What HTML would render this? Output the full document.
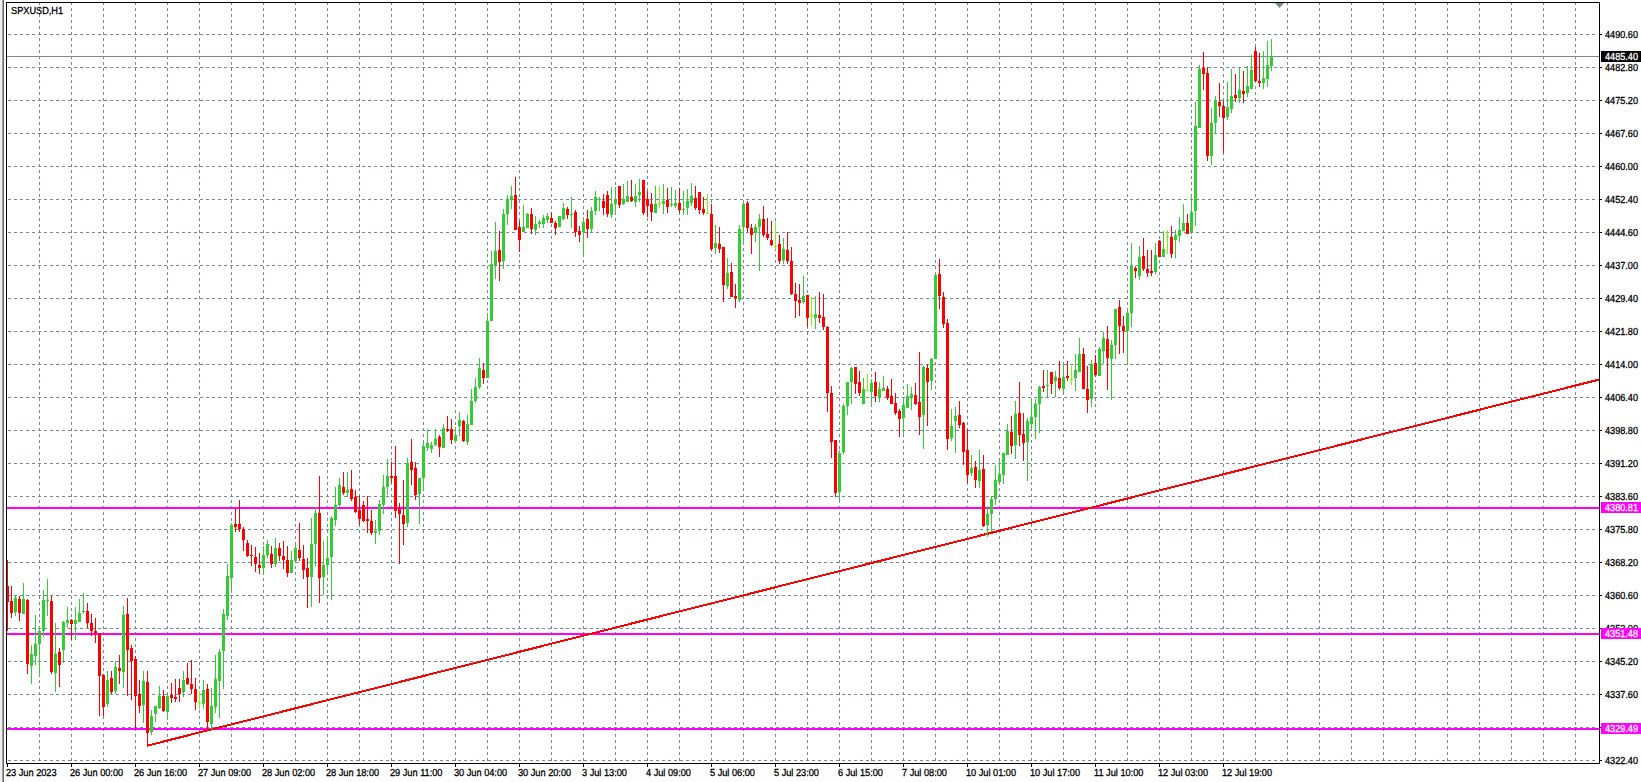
<!DOCTYPE html><html><head><meta charset="utf-8"><style>html,body{margin:0;padding:0;background:#fff;width:1641px;height:782px;overflow:hidden}svg{display:block}text{font-family:"Liberation Sans",sans-serif;font-size:10.2px;text-rendering:geometricPrecision;stroke:currentColor;stroke-width:0.3px}</style></head><body>
<svg width="1641" height="782" viewBox="0 0 1641 782" shape-rendering="crispEdges">
<rect x="0" y="0" width="2" height="782" fill="#f0f0f0"/><rect x="2" y="0" width="1" height="782" fill="#a0a0a0"/><rect x="3" y="0" width="1" height="782" fill="#696969"/>
<path d="M39.5 2V763M71.5 2V763M103.5 2V763M135.5 2V763M167.5 2V763M199.5 2V763M231.5 2V763M263.5 2V763M295.5 2V763M327.5 2V763M359.5 2V763M391.5 2V763M423.5 2V763M455.5 2V763M487.5 2V763M519.5 2V763M551.5 2V763M583.5 2V763M615.5 2V763M647.5 2V763M679.5 2V763M711.5 2V763M743.5 2V763M775.5 2V763M807.5 2V763M839.5 2V763M871.5 2V763M903.5 2V763M935.5 2V763M967.5 2V763M999.5 2V763M1031.5 2V763M1063.5 2V763M1095.5 2V763M1127.5 2V763M1159.5 2V763M1191.5 2V763M1223.5 2V763M1255.5 2V763M1287.5 2V763M1319.5 2V763M1351.5 2V763M1383.5 2V763M1415.5 2V763M1447.5 2V763M1479.5 2V763M1511.5 2V763M1543.5 2V763M1575.5 2V763M8 34.5H1598M8 67.5H1598M8 100.5H1598M8 133.5H1598M8 166.5H1598M8 199.5H1598M8 232.5H1598M8 265.5H1598M8 298.5H1598M8 331.5H1598M8 364.5H1598M8 397.5H1598M8 430.5H1598M8 463.5H1598M8 496.5H1598M8 529.5H1598M8 562.5H1598M8 595.5H1598M8 628.5H1598M8 661.5H1598M8 694.5H1598M8 727.5H1598M8 760.5H1598" stroke="#778899" stroke-width="1" stroke-dasharray="3 3" fill="none"/>
<path d="M7 56.5H1599" stroke="#778899" stroke-width="1"/>
<rect x="7" y="507" width="1592" height="2" fill="#ff00ff"/>
<rect x="7" y="633" width="1592" height="2" fill="#ff00ff"/>
<rect x="7" y="728" width="1592" height="2" fill="#ff00ff"/>
<path d="M147 745.7L1599 379.6" stroke="#ff0000" stroke-width="2" fill="none"/>
<path d="M15.5 595V616M23.5 583V614M31.5 645V684M35.5 615V665M39.5 627V676M43.5 590V637M47.5 579V616M55.5 623V692M63.5 621V663M67.5 607V628M75.5 607V640M79.5 599V622M83.5 593V614M107.5 671V707M115.5 661V694M123.5 606V688M143.5 671V723M151.5 710V735M155.5 706V722M159.5 686V709M167.5 694V720M183.5 671V697M203.5 680V709M211.5 688V731M215.5 655V713M219.5 649V718M223.5 609V689M227.5 564V620M231.5 523V590M263.5 546V574M267.5 540V558M275.5 538V567M291.5 551V573M295.5 544V562M311.5 518V607M315.5 507V566M323.5 541V595M327.5 536V572M331.5 516V600M335.5 487V526M339.5 478V507M347.5 472V497M375.5 520V544M379.5 500V535M383.5 475V514M387.5 459V495M407.5 458V527M419.5 478V524M423.5 443V490M427.5 429V451M431.5 442V453M435.5 429V446M443.5 424V448M455.5 427V443M459.5 412V436M467.5 415V445M471.5 389V425M475.5 378V403M479.5 358V389M487.5 313V378M491.5 251V321M495.5 222V279M503.5 209V269M507.5 195V225M511.5 186V209M523.5 205V232M527.5 213V228M535.5 216V235M539.5 220V228M543.5 215V228M547.5 213V223M559.5 216V227M563.5 203V220M571.5 197V228M583.5 217V256M591.5 207V232M595.5 191V215M599.5 197V211M611.5 187V218M615.5 187V213M623.5 184V205M627.5 181V202M635.5 184V207M639.5 179V202M655.5 186V213M663.5 184V214M671.5 187V207M675.5 190V208M683.5 191V215M687.5 189V215M691.5 183V206M715.5 225V254M727.5 258V289M739.5 225V302M743.5 202V242M755.5 224V242M759.5 214V271M783.5 238V264M803.5 276V304M815.5 296V329M839.5 450V500M843.5 404V454M847.5 382V415M851.5 367V404M863.5 378V404M871.5 379V405M879.5 382V402M883.5 376V391M903.5 398V434M907.5 384V408M911.5 387V410M923.5 366V449M931.5 358V390M935.5 274V359M951.5 409V441M955.5 407V453M971.5 455V476M979.5 450V488M987.5 506V537M991.5 496V532M995.5 465V505M999.5 460V482M1003.5 453V484M1007.5 424V455M1015.5 401V459M1027.5 418V481M1031.5 399V428M1035.5 399V439M1039.5 386V433M1047.5 370V397M1055.5 371V397M1063.5 364V392M1075.5 354V391M1079.5 338V372M1091.5 360V407M1099.5 347V376M1103.5 332V364M1111.5 340V400M1115.5 309V359M1127.5 311V364M1131.5 243V327M1139.5 246V280M1155.5 243V274M1163.5 231V257M1175.5 230V258M1179.5 217V242M1183.5 204V231M1191.5 195V234M1195.5 102V226M1199.5 65V128M1211.5 108V165M1215.5 96V133M1227.5 82V120M1231.5 69V113M1239.5 67V103M1247.5 66V97M1251.5 55V89M1263.5 51V89M1267.5 41V87M1271.5 39V71" stroke="#32cd32" stroke-width="1" fill="none"/>
<path d="M14 598h3v14h-3zM22 599h3v15h-3zM30 654h3v12h-3zM34 644h3v12h-3zM38 631h3v13h-3zM42 600h3v31h-3zM46 600h3v1h-3zM54 654h3v19h-3zM62 622h3v28h-3zM66 620h3v3h-3zM74 620h3v4h-3zM78 613h3v9h-3zM82 611h3v1h-3zM106 680h3v24h-3zM114 667h3v24h-3zM122 615h3v57h-3zM142 681h3v24h-3zM150 716h3v16h-3zM154 706h3v8h-3zM158 696h3v12h-3zM166 696h3v16h-3zM182 680h3v12h-3zM202 690h3v14h-3zM210 706h3v18h-3zM214 679h3v28h-3zM218 652h3v29h-3zM222 614h3v37h-3zM226 576h3v40h-3zM230 525h3v53h-3zM262 555h3v13h-3zM266 544h3v11h-3zM274 548h3v16h-3zM290 560h3v13h-3zM294 548h3v13h-3zM310 544h3v33h-3zM314 513h3v31h-3zM322 565h3v12h-3zM326 558h3v7h-3zM330 518h3v39h-3zM334 505h3v15h-3zM338 485h3v20h-3zM346 490h3v3h-3zM374 531h3v2h-3zM378 504h3v27h-3zM382 487h3v18h-3zM386 476h3v11h-3zM406 463h3v60h-3zM418 478h3v16h-3zM422 446h3v32h-3zM426 443h3v5h-3zM430 445h3v4h-3zM434 439h3v6h-3zM442 428h3v20h-3zM454 435h3v6h-3zM458 420h3v6h-3zM466 424h3v18h-3zM470 401h3v24h-3zM474 387h3v14h-3zM478 368h3v19h-3zM486 321h3v57h-3zM490 264h3v57h-3zM494 251h3v14h-3zM502 214h3v47h-3zM506 200h3v14h-3zM510 196h3v4h-3zM522 227h3v5h-3zM526 214h3v14h-3zM534 224h3v6h-3zM538 222h3v2h-3zM542 218h3v6h-3zM546 216h3v4h-3zM558 216h3v11h-3zM562 208h3v11h-3zM570 214h3v1h-3zM582 222h3v10h-3zM590 211h3v18h-3zM594 197h3v14h-3zM598 199h3v1h-3zM610 204h3v11h-3zM614 200h3v4h-3zM622 199h3v5h-3zM626 196h3v6h-3zM634 196h3v6h-3zM638 192h3v3h-3zM654 204h3v9h-3zM662 201h3v3h-3zM670 204h3v1h-3zM674 203h3v3h-3zM682 209h3v1h-3zM686 201h3v7h-3zM690 196h3v7h-3zM714 243h3v5h-3zM726 273h3v13h-3zM738 229h3v71h-3zM742 204h3v23h-3zM754 227h3v6h-3zM758 219h3v8h-3zM782 249h3v11h-3zM802 296h3v6h-3zM814 314h3v4h-3zM838 453h3v39h-3zM842 406h3v46h-3zM846 382h3v24h-3zM850 368h3v14h-3zM862 389h3v15h-3zM870 383h3v9h-3zM878 389h3v9h-3zM882 388h3v3h-3zM902 405h3v13h-3zM906 396h3v12h-3zM910 394h3v4h-3zM922 367h3v48h-3zM930 359h3v22h-3zM934 275h3v84h-3zM950 426h3v12h-3zM954 416h3v5h-3zM970 468h3v5h-3zM978 470h3v11h-3zM986 514h3v11h-3zM990 499h3v15h-3zM994 480h3v19h-3zM998 474h3v8h-3zM1002 453h3v22h-3zM1006 431h3v24h-3zM1014 414h3v31h-3zM1026 421h3v21h-3zM1030 417h3v7h-3zM1034 404h3v13h-3zM1038 387h3v17h-3zM1046 385h3v1h-3zM1054 377h3v4h-3zM1062 377h3v12h-3zM1074 370h3v8h-3zM1078 354h3v18h-3zM1090 364h3v35h-3zM1098 349h3v27h-3zM1102 338h3v13h-3zM1110 345h3v14h-3zM1114 309h3v36h-3zM1126 313h3v18h-3zM1130 266h3v47h-3zM1138 257h3v19h-3zM1154 255h3v17h-3zM1162 249h3v8h-3zM1174 235h3v5h-3zM1178 230h3v6h-3zM1182 223h3v8h-3zM1190 212h3v20h-3zM1194 126h3v85h-3zM1198 69h3v59h-3zM1210 123h3v33h-3zM1214 100h3v23h-3zM1226 107h3v10h-3zM1230 96h3v13h-3zM1238 90h3v8h-3zM1246 86h3v7h-3zM1250 70h3v19h-3zM1262 78h3v5h-3zM1266 65h3v14h-3zM1270 56h3v10h-3z" fill="#32cd32"/>
<path d="M7.5 560V631M11.5 586V618M19.5 596V621M27.5 599V674M51.5 596V674M59.5 648V687M71.5 619V640M87.5 603V628M91.5 614V636M95.5 618V643M99.5 633V716M103.5 674V716M111.5 671V694M119.5 655V684M127.5 598V696M131.5 645V700M135.5 656V728M139.5 680V713M147.5 671V745M163.5 690V712M171.5 683V703M175.5 679V702M179.5 679V702M187.5 663V685M191.5 660V694M195.5 678V710M207.5 684V730M235.5 508V532M239.5 500V532M243.5 527V551M247.5 540V557M251.5 545V566M255.5 547V572M259.5 553V574M271.5 546V568M279.5 543V561M283.5 541V569M287.5 546V577M299.5 523V561M303.5 545V579M307.5 558V608M319.5 476V603M343.5 472V495M351.5 470V501M355.5 490V513M359.5 496V525M363.5 501V522M367.5 496V533M371.5 510V535M391.5 462V483M395.5 446V518M399.5 503V564M403.5 480V545M411.5 439V485M415.5 462V500M439.5 435V457M447.5 416V432M451.5 419V444M463.5 420V442M483.5 363V384M499.5 231V281M515.5 177V230M519.5 221V252M531.5 208V234M551.5 212V223M555.5 221V235M567.5 207V219M575.5 210V237M579.5 226V242M587.5 210V238M603.5 194V215M607.5 191V217M619.5 186V208M631.5 180V202M643.5 180V215M647.5 191V217M651.5 193V221M667.5 188V213M679.5 188V213M695.5 186V210M699.5 192V214M703.5 197V215M711.5 204V251M719.5 227V253M723.5 247V302M731.5 263V297M735.5 284V308M747.5 201V232M751.5 224V254M763.5 206V237M767.5 218V240M771.5 221V246M779.5 235V264M787.5 232V264M791.5 247V295M795.5 283V318M799.5 284V316M807.5 295V327M819.5 292V323M823.5 294V330M827.5 326V412M831.5 386V458M835.5 440V497M855.5 367V394M859.5 371V396M875.5 372V402M887.5 386V400M891.5 379V404M895.5 393V415M899.5 409V437M915.5 383V405M919.5 352V435M927.5 364V426M939.5 259V309M943.5 292V328M947.5 319V450M959.5 401V428M963.5 422V465M967.5 429V483M975.5 461V488M983.5 455V527M1011.5 416V454M1019.5 382V446M1023.5 413V461M1043.5 370V392M1051.5 372V394M1059.5 361V390M1067.5 361V381M1083.5 348V389M1087.5 366V413M1095.5 355V377M1107.5 326V390M1119.5 300V354M1123.5 316V353M1135.5 266V278M1143.5 238V271M1147.5 250V277M1151.5 250V276M1159.5 240V257M1171.5 226V258M1187.5 214V234M1203.5 52V90M1207.5 67V161M1219.5 83V117M1223.5 101V153M1235.5 74V102M1243.5 71V103M1255.5 47V82M1259.5 53V87" stroke="#ff0000" stroke-width="1" fill="none"/>
<path d="M6 586h3v16h-3zM10 601h3v12h-3zM18 599h3v14h-3zM26 600h3v64h-3zM50 601h3v71h-3zM58 652h3v13h-3zM70 620h3v4h-3zM86 611h3v12h-3zM90 623h3v8h-3zM94 631h3v2h-3zM98 633h3v43h-3zM102 675h3v32h-3zM110 678h3v14h-3zM118 668h3v3h-3zM126 614h3v36h-3zM130 648h3v13h-3zM134 659h3v37h-3zM138 694h3v12h-3zM146 682h3v51h-3zM162 696h3v15h-3zM170 695h3v3h-3zM174 697h3v2h-3zM178 688h3v6h-3zM186 678h3v6h-3zM190 684h3v5h-3zM194 689h3v13h-3zM206 689h3v33h-3zM234 524h3v3h-3zM238 524h3v5h-3zM242 529h3v11h-3zM246 543h3v13h-3zM250 555h3v1h-3zM254 557h3v7h-3zM258 565h3v3h-3zM270 554h3v10h-3zM278 548h3v8h-3zM282 556h3v4h-3zM286 560h3v13h-3zM298 550h3v8h-3zM302 559h3v11h-3zM306 568h3v9h-3zM318 513h3v65h-3zM342 487h3v6h-3zM350 489h3v10h-3zM354 497h3v15h-3zM358 510h3v9h-3zM362 505h3v16h-3zM366 519h3v2h-3zM370 521h3v12h-3zM390 476h3v2h-3zM394 476h3v35h-3zM398 509h3v5h-3zM402 515h3v9h-3zM410 462h3v8h-3zM414 468h3v27h-3zM438 437h3v10h-3zM446 429h3v2h-3zM450 429h3v11h-3zM462 421h3v20h-3zM482 370h3v8h-3zM498 250h3v12h-3zM514 195h3v35h-3zM518 227h3v13h-3zM530 214h3v15h-3zM550 218h3v5h-3zM554 223h3v5h-3zM566 209h3v6h-3zM574 212h3v20h-3zM578 231h3v4h-3zM586 219h3v10h-3zM602 201h3v7h-3zM606 195h3v19h-3zM618 186h3v19h-3zM630 197h3v4h-3zM642 180h3v33h-3zM646 199h3v7h-3zM650 204h3v8h-3zM666 200h3v7h-3zM678 203h3v7h-3zM694 198h3v10h-3zM698 192h3v18h-3zM702 209h3v4h-3zM710 214h3v35h-3zM718 244h3v5h-3zM722 247h3v38h-3zM730 272h3v25h-3zM734 296h3v2h-3zM746 203h3v25h-3zM750 228h3v7h-3zM762 219h3v16h-3zM766 234h3v4h-3zM770 240h3v5h-3zM778 244h3v17h-3zM786 250h3v11h-3zM790 261h3v33h-3zM794 294h3v7h-3zM798 300h3v3h-3zM806 295h3v23h-3zM818 315h3v3h-3zM822 317h3v10h-3zM826 327h3v66h-3zM830 393h3v49h-3zM834 440h3v53h-3zM854 367h3v17h-3zM858 382h3v11h-3zM874 382h3v14h-3zM886 389h3v9h-3zM890 396h3v8h-3zM894 403h3v10h-3zM898 411h3v8h-3zM914 395h3v9h-3zM918 402h3v15h-3zM926 368h3v14h-3zM938 274h3v22h-3zM942 297h3v27h-3zM946 323h3v116h-3zM958 415h3v10h-3zM962 423h3v29h-3zM966 450h3v25h-3zM974 467h3v13h-3zM982 469h3v57h-3zM1010 432h3v14h-3zM1018 413h3v22h-3zM1022 434h3v9h-3zM1042 386h3v2h-3zM1050 372h3v12h-3zM1058 378h3v10h-3zM1066 376h3v2h-3zM1082 354h3v35h-3zM1086 389h3v11h-3zM1094 363h3v12h-3zM1106 339h3v19h-3zM1118 307h3v19h-3zM1122 326h3v5h-3zM1134 268h3v3h-3zM1142 256h3v13h-3zM1146 269h3v4h-3zM1150 271h3v2h-3zM1158 241h3v16h-3zM1170 237h3v17h-3zM1186 223h3v11h-3zM1202 68h3v6h-3zM1206 73h3v83h-3zM1218 102h3v4h-3zM1222 106h3v12h-3zM1234 95h3v3h-3zM1242 91h3v3h-3zM1254 51h3v30h-3zM1258 81h3v2h-3z" fill="#ff0000"/>
<path d="M199.5 691V709M659.5 186V208M707.5 194V214M775.5 222V249M811.5 297V326M867.5 374V390M1071.5 366V385M1167.5 230V254" stroke="#7cfc00" stroke-width="1" fill="none"/>
<path d="M198 702h3v1h-3zM658 203h3v1h-3zM706 213h3v1h-3zM774 246h3v1h-3zM810 315h3v1h-3zM866 390h3v1h-3zM1070 379h3v1h-3zM1166 236h3v1h-3z" fill="#7cfc00"/>
<rect x="6.5" y="2.5" width="1593" height="761" fill="none" stroke="#000" stroke-width="1"/>
<path d="M1275 3H1284L1279.5 8Z" fill="#778899" shape-rendering="geometricPrecision"/>
<text x="1605" y="38" textLength="33" lengthAdjust="spacingAndGlyphs">4490.60</text>
<text x="1605" y="71" textLength="33" lengthAdjust="spacingAndGlyphs">4482.80</text>
<text x="1605" y="104" textLength="33" lengthAdjust="spacingAndGlyphs">4475.20</text>
<text x="1605" y="137" textLength="33" lengthAdjust="spacingAndGlyphs">4467.60</text>
<text x="1605" y="170" textLength="33" lengthAdjust="spacingAndGlyphs">4460.00</text>
<text x="1605" y="203" textLength="33" lengthAdjust="spacingAndGlyphs">4452.40</text>
<text x="1605" y="236" textLength="33" lengthAdjust="spacingAndGlyphs">4444.60</text>
<text x="1605" y="269" textLength="33" lengthAdjust="spacingAndGlyphs">4437.00</text>
<text x="1605" y="302" textLength="33" lengthAdjust="spacingAndGlyphs">4429.40</text>
<text x="1605" y="335" textLength="33" lengthAdjust="spacingAndGlyphs">4421.80</text>
<text x="1605" y="368" textLength="33" lengthAdjust="spacingAndGlyphs">4414.00</text>
<text x="1605" y="401" textLength="33" lengthAdjust="spacingAndGlyphs">4406.40</text>
<text x="1605" y="434" textLength="33" lengthAdjust="spacingAndGlyphs">4398.80</text>
<text x="1605" y="467" textLength="33" lengthAdjust="spacingAndGlyphs">4391.20</text>
<text x="1605" y="500" textLength="33" lengthAdjust="spacingAndGlyphs">4383.60</text>
<text x="1605" y="533" textLength="33" lengthAdjust="spacingAndGlyphs">4375.80</text>
<text x="1605" y="566" textLength="33" lengthAdjust="spacingAndGlyphs">4368.20</text>
<text x="1605" y="599" textLength="33" lengthAdjust="spacingAndGlyphs">4360.60</text>
<text x="1605" y="632" textLength="33" lengthAdjust="spacingAndGlyphs">4353.00</text>
<text x="1605" y="665" textLength="33" lengthAdjust="spacingAndGlyphs">4345.20</text>
<text x="1605" y="698" textLength="33" lengthAdjust="spacingAndGlyphs">4337.60</text>
<text x="1605" y="731" textLength="33" lengthAdjust="spacingAndGlyphs">4330.00</text>
<text x="1605" y="764" textLength="33" lengthAdjust="spacingAndGlyphs">4322.40</text>
<path d="M1600 34.5h2M1600 67.5h2M1600 100.5h2M1600 133.5h2M1600 166.5h2M1600 199.5h2M1600 232.5h2M1600 265.5h2M1600 298.5h2M1600 331.5h2M1600 364.5h2M1600 397.5h2M1600 430.5h2M1600 463.5h2M1600 496.5h2M1600 529.5h2M1600 562.5h2M1600 595.5h2M1600 628.5h2M1600 661.5h2M1600 694.5h2M1600 727.5h2M1600 760.5h2" stroke="#000" stroke-width="1"/>
<rect x="1601" y="51" width="40" height="11" fill="#000"/>
<text x="1605" y="60" fill="#fff" style="color:#fff" textLength="33" lengthAdjust="spacingAndGlyphs">4485.40</text>
<rect x="1601" y="502" width="40" height="11" fill="#ff00ff"/>
<text x="1605" y="511" fill="#fff" style="color:#fff" textLength="33" lengthAdjust="spacingAndGlyphs">4380.81</text>
<rect x="1601" y="628" width="40" height="11" fill="#ff00ff"/>
<text x="1605" y="637" fill="#fff" style="color:#fff" textLength="33" lengthAdjust="spacingAndGlyphs">4351.48</text>
<rect x="1601" y="723" width="40" height="11" fill="#ff00ff"/>
<text x="1605" y="732" fill="#fff" style="color:#fff" textLength="33" lengthAdjust="spacingAndGlyphs">4329.49</text>
<text x="6" y="776" transform="translate(6 0) scale(0.902 1) translate(-6 0)">23 Jun 2023</text>
<text x="70" y="776" transform="translate(70 0) scale(0.902 1) translate(-70 0)">26 Jun 00:00</text>
<text x="134" y="776" transform="translate(134 0) scale(0.902 1) translate(-134 0)">26 Jun 16:00</text>
<text x="198" y="776" transform="translate(198 0) scale(0.902 1) translate(-198 0)">27 Jun 09:00</text>
<text x="262" y="776" transform="translate(262 0) scale(0.902 1) translate(-262 0)">28 Jun 02:00</text>
<text x="326" y="776" transform="translate(326 0) scale(0.902 1) translate(-326 0)">28 Jun 18:00</text>
<text x="390" y="776" transform="translate(390 0) scale(0.902 1) translate(-390 0)">29 Jun 11:00</text>
<text x="454" y="776" transform="translate(454 0) scale(0.902 1) translate(-454 0)">30 Jun 04:00</text>
<text x="518" y="776" transform="translate(518 0) scale(0.902 1) translate(-518 0)">30 Jun 20:00</text>
<text x="582" y="776" transform="translate(582 0) scale(0.902 1) translate(-582 0)">3 Jul 13:00</text>
<text x="646" y="776" transform="translate(646 0) scale(0.902 1) translate(-646 0)">4 Jul 09:00</text>
<text x="710" y="776" transform="translate(710 0) scale(0.902 1) translate(-710 0)">5 Jul 06:00</text>
<text x="774" y="776" transform="translate(774 0) scale(0.902 1) translate(-774 0)">5 Jul 23:00</text>
<text x="838" y="776" transform="translate(838 0) scale(0.902 1) translate(-838 0)">6 Jul 15:00</text>
<text x="902" y="776" transform="translate(902 0) scale(0.902 1) translate(-902 0)">7 Jul 08:00</text>
<text x="966" y="776" transform="translate(966 0) scale(0.902 1) translate(-966 0)">10 Jul 01:00</text>
<text x="1030" y="776" transform="translate(1030 0) scale(0.902 1) translate(-1030 0)">10 Jul 17:00</text>
<text x="1094" y="776" transform="translate(1094 0) scale(0.902 1) translate(-1094 0)">11 Jul 10:00</text>
<text x="1158" y="776" transform="translate(1158 0) scale(0.902 1) translate(-1158 0)">12 Jul 03:00</text>
<text x="1222" y="776" transform="translate(1222 0) scale(0.902 1) translate(-1222 0)">12 Jul 19:00</text>
<path d="M7.5 764v3M71.5 764v3M135.5 764v3M199.5 764v3M263.5 764v3M327.5 764v3M391.5 764v3M455.5 764v3M519.5 764v3M583.5 764v3M647.5 764v3M711.5 764v3M775.5 764v3M839.5 764v3M903.5 764v3M967.5 764v3M1031.5 764v3M1095.5 764v3M1159.5 764v3M1223.5 764v3" stroke="#000" stroke-width="1"/>
<text x="11" y="14" transform="translate(11 0) scale(0.902 1) translate(-11 0)">SPXUSD,H1</text>
</svg></body></html>
